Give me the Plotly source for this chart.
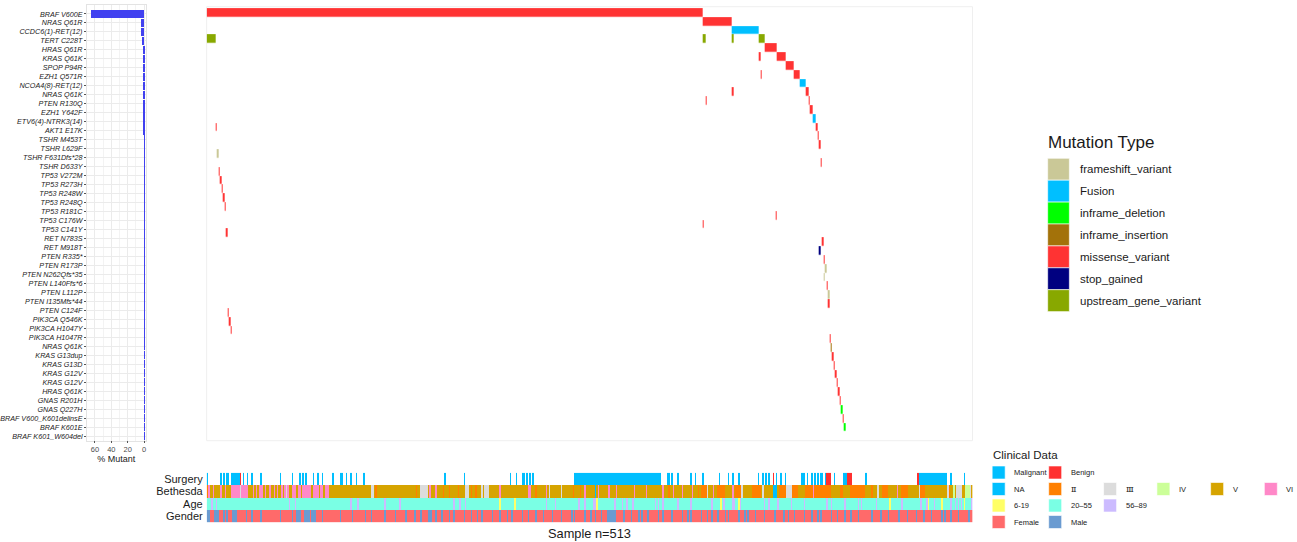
import plotly.graph_objects as go
import numpy as np

N_SAMPLES = 513
W, H = 1297, 542

# ---------------- mutation matrix data ----------------
genes = ["BRAF V600E", "NRAS Q61R", "CCDC6(1)-RET(12)", "TERT C228T", "HRAS Q61R", "KRAS Q61K",
         "SPOP P94R", "EZH1 Q571R", "NCOA4(8)-RET(12)", "NRAS Q61K", "PTEN R130Q", "EZH1 Y642F",
         "ETV6(4)-NTRK3(14)", "AKT1 E17K", "TSHR M453T", "TSHR L629F", "TSHR F631Dfs*28", "TSHR D633Y",
         "TP53 V272M", "TP53 R273H", "TP53 R248W", "TP53 R248Q", "TP53 R181C", "TP53 C176W", "TP53 C141Y",
         "RET N783S", "RET M918T", "PTEN R335*", "PTEN R173P", "PTEN N262Qfs*35", "PTEN L140Ffs*6",
         "PTEN L112P", "PTEN I135Mfs*44", "PTEN C124F", "PIK3CA Q546K", "PIK3CA H1047Y", "PIK3CA H1047R",
         "NRAS Q61K", "KRAS G13dup", "KRAS G13D", "KRAS G12V", "KRAS G12V", "HRAS Q61K", "GNAS R201H",
         "GNAS Q227H", "BRAF V600_K601delinsE", "BRAF K601E", "BRAF K601_W604del"]

mut_types = ["frameshift_variant", "Fusion", "inframe_deletion", "inframe_insertion",
             "missense_variant", "stop_gained", "upstream_gene_variant"]
mut_colors = ["#CAC897", "#00BFFF", "#00FF00", "#A3720A", "#FF3333", "#000080", "#88A800"]

# type index per gene row
gene_type = [4, 4, 1, 6, 4, 4, 4, 4, 1, 4, 4, 4, 1, 4, 4, 4, 0, 4,
             4, 4, 4, 4, 4, 4, 4, 4, 4, 5, 4, 0, 0, 4, 0, 4, 4, 4, 4,
             4, 3, 4, 4, 4, 4, 4, 4, 2, 4, 2]

# mutated samples per gene row, as (first, last) runs of sample index
gene_samples = [
    [(0, 331)], [(332, 351)], [(352, 369)], [(0, 5), (332, 333), (352, 352), (370, 373)],
    [(374, 381)], [(370, 370), (382, 387)], [(388, 392)], [(371, 371), (393, 396)],
    [(397, 400)], [(352, 352), (401, 402)], [(334, 334), (403, 403)], [(404, 405)],
    [(406, 407)], [(6, 6), (408, 408)], [(409, 409)], [(410, 410)], [(7, 7)], [(411, 411)],
    [(8, 8)], [(9, 9)], [(10, 10)], [(11, 11)], [(12, 12)], [(381, 381)], [(332, 332)],
    [(13, 13)], [(412, 412)], [(410, 410)], [(413, 413)], [(414, 414)], [(413, 413)],
    [(415, 415)], [(416, 416)], [(416, 416)], [(14, 14)], [(15, 15)], [(16, 16)],
    [(417, 417)], [(418, 418)], [(419, 419)], [(420, 420)], [(421, 421)], [(422, 422)],
    [(423, 423)], [(424, 424)], [(425, 425)], [(426, 426)], [(427, 427)],
]

# ---------------- clinical data ----------------
track_names = ["Surgery", "Bethesda", "Age", "Gender"]
surgery_malignant = [(0, 0), (9, 9), (11, 11), (13, 14), (16, 21), (24, 24), (27, 27), (30, 30), (36, 36),
                     (49, 49), (57, 57), (62, 62), (64, 64), (66, 66), (71, 71), (74, 74), (77, 77),
                     (84, 84), (89, 90), (93, 93), (96, 96), (100, 100), (105, 105), (159, 159),
                     (172, 172), (203, 203), (207, 207), (211, 212), (214, 214), (216, 216), (218, 218),
                     (246, 303), (308, 309), (311, 311), (315, 315), (324, 324), (327, 327), (332, 332),
                     (343, 343), (349, 349), (352, 352), (356, 356), (369, 369), (372, 372), (374, 374),
                     (376, 376), (381, 381), (384, 384), (387, 387), (398, 400), (402, 402), (405, 405),
                     (407, 407), (409, 409), (411, 412), (414, 414), (420, 420), (426, 428), (441, 441),
                     (477, 495), (498, 498), (507, 507)]
surgery_benign = [(22, 22), (379, 379), (415, 417), (429, 431), (476, 476)]

bethesda_levels = ["NA", "Ⅱ", "Ⅲ", "IV", "V", "VI"]
bethesda_default = "V"
bethesda_runs = {
    "VI": [(1, 1), (4, 4), (9, 9), (12, 12), (16, 21), (23, 27), (31, 31), (33, 33), (35, 37), (39, 39),
           (42, 42), (45, 45), (47, 47), (50, 50), (52, 52), (54, 54), (57, 59), (61, 62), (64, 69),
           (71, 74), (76, 77), (79, 81), (149, 149), (153, 153), (196, 196), (215, 216), (227, 227),
           (253, 253), (262, 262), (269, 269), (274, 274), (286, 286), (294, 294), (305, 305),
           (312, 312), (318, 318), (325, 325), (339, 339), (352, 352), (406, 406), (462, 462)],
    "Ⅲ": [(22, 22), (53, 53), (110, 111), (143, 147), (173, 175), (184, 184), (186, 188), (229, 229),
          (237, 237), (335, 335), (358, 358), (372, 372), (388, 391), (449, 449), (477, 477),
          (496, 496), (502, 505), (511, 511)],
    "Ⅱ": [(0, 0), (113, 113), (140, 140), (158, 158), (162, 162), (168, 168), (177, 177), (180, 180),
          (220, 220), (245, 245), (250, 250), (309, 309), (329, 329), (331, 334), (342, 346),
          (354, 357), (365, 370), (383, 387), (392, 395), (401, 405), (407, 417), (424, 425),
          (431, 440), (445, 445), (452, 455), (465, 469), (478, 480), (497, 497)],
    "NA": [(260, 260), (379, 381)],
    "IV": [(500, 500), (508, 510)],
}

age_default = "20–55"
age_old = [3, 6, 55, 59, 96, 101, 119, 129, 165, 169, 173, 227, 233, 249, 253, 259, 260, 273, 278,
           281, 285, 300, 302, 305, 315, 324, 338, 346, 352, 353, 357, 373, 376, 382, 391, 400, 415,
           418, 427, 436, 438, 448, 465, 478, 482, 487, 498, 501, 503, 505, 512]
age_young = [196, 206, 261, 344, 356, 457, 483, 492, 507]

gender_male = [0, 1, 5, 6, 7, 11, 13, 17, 18, 19, 26, 30, 36, 49, 57, 60, 61, 62, 65, 66, 67, 68, 70,
               71, 72, 77, 89, 97, 106, 110, 119, 126, 133, 139, 143, 148, 149, 150, 153, 157, 162,
               165, 172, 177, 181, 184, 191, 196, 201, 204, 211, 215, 220, 225, 231, 237, 244, 246,
               253, 257, 260, 264, 268, 269, 270, 271, 272, 273, 279, 284, 289, 291, 295, 302, 305,
               311, 318, 322, 324, 331, 335, 338, 342, 347, 349, 356, 360, 362, 367, 373, 380, 386,
               389, 393, 400, 405, 409, 411, 418, 422, 427, 431, 436, 445, 451, 456, 463, 469, 475,
               480, 485, 492, 494, 498, 503, 510]

clin_labels = ["none", "Malignant", "Benign", "NA", "Ⅱ", "Ⅲ", "IV", "V", "VI",
               "6-19", "20–55", "56–89", "Female", "Male"]
clin_colors = ["#FFFFFF", "#00BFFF", "#FF3030", "#00BFFF", "#FF8000", "#DCDCDC", "#CCFF99",
               "#D6A400", "#FF88C8", "#FFFF66", "#7AFFE4", "#CCBBFF", "#FF6A6A", "#6A9BD1"]


def expand(runs):
    out = []
    for a, b in runs:
        out.extend(range(a, b + 1))
    return out


def discrete_scale(colors):
    n = len(colors)
    cs = []
    for k, c in enumerate(colors):
        cs.append([k / n, c])
        cs.append([(k + 1) / n, c])
    return cs


# mutation matrix
n_genes = len(genes)
zmut = np.full((n_genes, N_SAMPLES), np.nan)
for r, runs in enumerate(gene_samples):
    for s in expand(runs):
        zmut[r, s] = gene_type[r]
pct = [len(expand(runs)) / N_SAMPLES * 100 for runs in gene_samples]

# clinical matrix
code = {lab: i for i, lab in enumerate(clin_labels)}
zclin = np.zeros((4, N_SAMPLES))
for s in expand(surgery_malignant):
    zclin[0, s] = code["Malignant"]
for s in expand(surgery_benign):
    zclin[0, s] = code["Benign"]
zclin[1, :] = code[bethesda_default]
for lev, runs in bethesda_runs.items():
    for s in expand(runs):
        zclin[1, s] = code[lev]
zclin[2, :] = code[age_default]
for s in age_old:
    zclin[2, s] = code["56–89"]
for s in age_young:
    zclin[2, s] = code["6-19"]
zclin[3, :] = code["Female"]
for s in gender_male:
    zclin[3, s] = code["Male"]

FONT = "Liberation Sans, Arial, sans-serif"


def px(x):
    return x / W


def py(y):
    return 1 - y / H


fig = go.Figure()

fig.add_trace(go.Bar(x=pct, y=list(range(n_genes)), orientation="h", marker_color="#4141F0",
                     marker_line_width=0, width=0.95, xaxis="x", yaxis="y", showlegend=False))

fig.add_trace(go.Heatmap(z=zmut, x=list(range(N_SAMPLES)), y=list(range(n_genes)),
                         colorscale=discrete_scale(mut_colors), zmin=-0.5, zmax=len(mut_colors) - 0.5,
                         showscale=False, xaxis="x2", yaxis="y2", ygap=0.3, hoverinfo="skip"))

fig.add_trace(go.Heatmap(z=zclin, x=list(range(N_SAMPLES)), y=list(range(4)),
                         colorscale=discrete_scale(clin_colors), zmin=-0.5, zmax=len(clin_colors) - 0.5,
                         showscale=False, xaxis="x3", yaxis="y3", hoverinfo="skip"))

shapes = []
annotations = []

# main panel frame
shapes.append(dict(type="rect", xref="paper", yref="paper", x0=px(205), x1=px(972),
                   y0=py(440.7), y1=py(6.7), line=dict(color="#EFEFEF", width=1), layer="below"))

# Mutation Type legend
annotations.append(dict(x=px(1046), y=py(142), xref="paper", yref="paper", text="Mutation Type",
                        showarrow=False, xanchor="left", yanchor="middle",
                        font=dict(family=FONT, size=17, color="#1a1a1a")))
for k, (lab, col) in enumerate(zip(mut_types, mut_colors)):
    y0 = 158.3 + k * 21.9
    shapes.append(dict(type="rect", xref="paper", yref="paper", x0=px(1047.3), x1=px(1069),
                       y0=py(y0 + 21.9), y1=py(y0), fillcolor=col, line=dict(width=0.6, color="#FFFFFF")))
    annotations.append(dict(x=px(1077.5), y=py(y0 + 11), xref="paper", yref="paper", text=lab,
                            showarrow=False, xanchor="left", yanchor="middle",
                            font=dict(family=FONT, size=11.5, color="#1a1a1a")))

# Clinical Data legend
annotations.append(dict(x=px(991), y=py(455), xref="paper", yref="paper", text="Clinical Data",
                        showarrow=False, xanchor="left", yanchor="middle",
                        font=dict(family=FONT, size=11.5, color="#1a1a1a")))
legend_rows = [["Malignant", "Benign"], ["NA", "Ⅱ", "Ⅲ", "IV", "V", "VI"],
               ["6-19", "20–55", "56–89"], ["Female", "Male"]]
col_x = [991.7, 1048.3, 1103.3, 1156.7, 1210.5, 1264.3]
row_y = [472.5, 489.0, 505.5, 522.0]
for ri, row in enumerate(legend_rows):
    for ci, lab in enumerate(row):
        c = clin_colors[code[lab]]
        shapes.append(dict(type="rect", xref="paper", yref="paper", x0=px(col_x[ci]), x1=px(col_x[ci] + 13),
                           y0=py(row_y[ri] + 6.5), y1=py(row_y[ri] - 6.5), fillcolor=c,
                           line=dict(width=0.6, color="#FFFFFF")))
        is_roman = lab in ("Ⅱ", "Ⅲ")
        annotations.append(dict(x=px(col_x[ci] + 20), y=py(row_y[ri]), xref="paper", yref="paper",
                                text=lab, showarrow=False, xanchor="left", yanchor="middle",
                                font=dict(family="DejaVu Serif" if is_roman else FONT,
                                          size=8 if is_roman else 7.5, color="#1a1a1a")))

annotations.append(dict(x=px(588.5), y=py(533), xref="paper", yref="paper", text="Sample n=513",
                        showarrow=False, xanchor="center", yanchor="middle",
                        font=dict(family=FONT, size=12.8, color="#1a1a1a")))

fig.update_layout(
    width=W, height=H, margin=dict(l=0, r=0, t=0, b=0),
    paper_bgcolor="white", plot_bgcolor="white", showlegend=False,
    font=dict(family=FONT),
    bargap=0,
    xaxis=dict(domain=[px(85), px(144)], range=[69.9, -2.1], anchor="y",
               tickvals=[0, 20, 40, 60], ticks="outside", ticklen=2, tickcolor="#555",
               tickfont=dict(family=FONT, size=7.5, color="#4D4D4D"),
               showgrid=True, gridcolor="#EBEBEB", gridwidth=0.6,
               minor=dict(dtick=10, tick0=0, showgrid=True, gridcolor="#F3F3F3", gridwidth=0.5),
               zeroline=False, showline=True, mirror=True, linecolor="#E3E3E3", linewidth=0.8,
               title=dict(text="% Mutant", font=dict(family=FONT, size=9, color="#1a1a1a"), standoff=2)),
    yaxis=dict(domain=[py(440.5), py(5)], range=[47.5, -1.0], anchor="x",
               tickvals=list(range(n_genes)), ticktext=genes, ticks="outside", ticklen=2,
               tickcolor="#555", tickfont=dict(family=FONT, size=7.2, color="#222", style="italic"),
               showgrid=True, gridcolor="#EBEBEB", gridwidth=0.6, zeroline=False,
               showline=True, mirror=True, linecolor="#E3E3E3", linewidth=0.8),
    xaxis2=dict(domain=[px(205), px(972)], range=[-0.5, N_SAMPLES - 0.5], anchor="y2", visible=False),
    yaxis2=dict(domain=[py(440.7), py(6.7)], range=[48.55, -0.66], anchor="x2", visible=False),
    xaxis3=dict(domain=[px(205), px(972)], range=[-0.5, N_SAMPLES - 0.5], anchor="y3",
                showticklabels=False, showgrid=False, zeroline=False, ticks=""),
    yaxis3=dict(domain=[py(522.3), py(472.7)], range=[3.5, -0.5], anchor="x3",
                tickvals=[0, 1, 2, 3], ticktext=track_names, ticks="", showgrid=False, zeroline=False,
                tickfont=dict(family=FONT, size=11, color="#1a1a1a"), ticklabelstandoff=3),
    shapes=shapes, annotations=annotations,
)

fig.write_html("out.html", config={"displayModeBar": False},
               post_script="document.body.style.margin='0px';")
